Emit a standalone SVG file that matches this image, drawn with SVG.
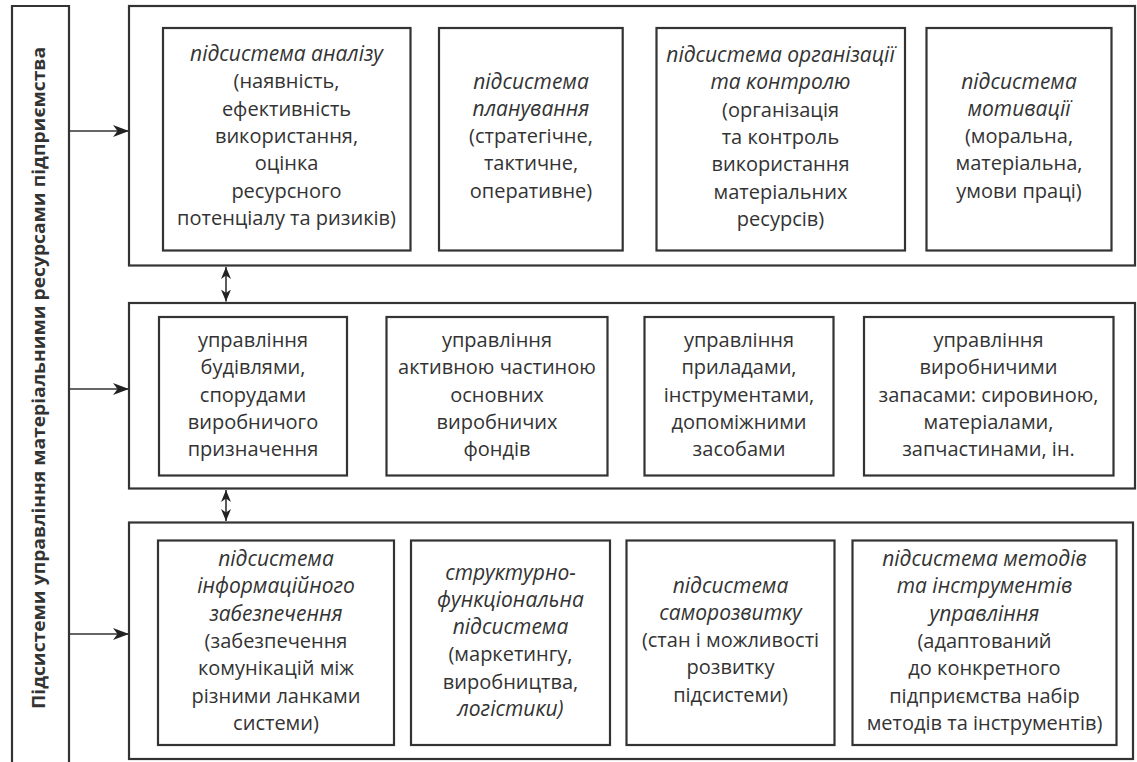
<svg xmlns="http://www.w3.org/2000/svg" width="1137" height="762" viewBox="0 0 1137 762">
  <style>
    .frame { fill: none; stroke: #333; stroke-width: 2.2; }
    .box { fill: #fff; stroke: #333; stroke-width: 2.2; }
    .link { fill: none; stroke: #333; stroke-width: 1.6; }
    text { font-family: "Open Sans", "Noto Sans", "DejaVu Sans", sans-serif; font-size: 20px; font-weight: 500; fill: #333; text-anchor: middle; }
    .it { font-style: italic; font-size: 21px; }
    .side { font-weight: bold; font-size: 18.5px; }
  </style>
  <defs>
    <marker id="head" markerUnits="userSpaceOnUse" markerWidth="17" markerHeight="13" refX="16" refY="6.5" orient="auto">
      <path d="M0,0.5 L16,6.5 L0,12.5 L4.5,6.5 Z" fill="#222"/>
    </marker>
    <marker id="tip" markerUnits="userSpaceOnUse" markerWidth="13" markerHeight="12" refX="12" refY="6" orient="auto-start-reverse">
      <path d="M0,1 L12,6 L0,11 L3.5,6 Z" fill="#222"/>
    </marker>
  </defs>

  <!-- side panel with rotated title -->
  <g id="side-panel">
    <path class="frame" d="M12,770 V6 H69 V770"/>
    <text class="side" transform="translate(45,378) rotate(-90)" textLength="662" lengthAdjust="spacingAndGlyphs">Підсистеми управління матеріальними ресурсами підприємства</text>
  </g>

  <!-- three tier frames -->
  <g id="tier-top"><rect class="frame" x="129" y="6" width="1006" height="259.5"/></g>
  <g id="tier-middle"><rect class="frame" x="129" y="303" width="1006" height="185.5"/></g>
  <g id="tier-bottom"><rect class="frame" x="129" y="522.5" width="1004" height="236.5"/></g>

  <!-- connectors -->
  <g id="connectors">
    <line class="link" x1="69" y1="131" x2="129" y2="131" marker-end="url(#head)"/>
    <line class="link" x1="69" y1="389" x2="129" y2="389" marker-end="url(#head)"/>
    <line class="link" x1="69" y1="634" x2="129" y2="634" marker-end="url(#head)"/>
    <line class="link" x1="226" y1="267" x2="226" y2="301.5" marker-start="url(#tip)" marker-end="url(#tip)"/>
    <line class="link" x1="226" y1="490" x2="226" y2="521" marker-start="url(#tip)" marker-end="url(#tip)"/>
  </g>

  <!-- top tier: subsystems -->
  <g id="analysis">
    <rect class="box" x="163" y="28" width="247.5" height="222.5"/>
    <text x="286.5" y="61"><tspan class="it">підсистема аналізу</tspan><tspan x="286.5" dy="27.3">(наявність,</tspan><tspan x="286.5" dy="27.3">ефективність</tspan><tspan x="286.5" dy="27.3">використання,</tspan><tspan x="286.5" dy="27.3">оцінка</tspan><tspan x="286.5" dy="27.3">ресурсного</tspan><tspan x="286.5" dy="27.3">потенціалу та ризиків)</tspan></text>
  </g>
  <g id="planning">
    <rect class="box" x="439" y="28" width="183.7" height="222.5"/>
    <text x="531" y="88.5"><tspan class="it">підсистема</tspan><tspan x="531" dy="27.3" class="it">планування</tspan><tspan x="531" dy="27.3">(стратегічне,</tspan><tspan x="531" dy="27.3">тактичне,</tspan><tspan x="531" dy="27.3">оперативне)</tspan></text>
  </g>
  <g id="organization">
    <rect class="box" x="656.5" y="28" width="248.5" height="222.5"/>
    <text x="780.5" y="62"><tspan class="it">підсистема організації</tspan><tspan x="780.5" dy="27.3" class="it">та контролю</tspan><tspan x="780.5" dy="27.3">(організація</tspan><tspan x="780.5" dy="27.3">та контроль</tspan><tspan x="780.5" dy="27.3">використання</tspan><tspan x="780.5" dy="27.3">матеріальних</tspan><tspan x="780.5" dy="27.3">ресурсів)</tspan></text>
  </g>
  <g id="motivation">
    <rect class="box" x="926.5" y="28" width="185" height="222.5"/>
    <text x="1019" y="88.5"><tspan class="it">підсистема</tspan><tspan x="1019" dy="27.3" class="it">мотивації</tspan><tspan x="1019" dy="27.3">(моральна,</tspan><tspan x="1019" dy="27.3">матеріальна,</tspan><tspan x="1019" dy="27.3">умови праці)</tspan></text>
  </g>

  <!-- middle tier: resource management -->
  <g id="buildings">
    <rect class="box" x="159" y="317" width="188" height="158.5"/>
    <text x="253" y="347"><tspan>управління</tspan><tspan x="253" dy="27.3">будівлями,</tspan><tspan x="253" dy="27.3">спорудами</tspan><tspan x="253" dy="27.3">виробничого</tspan><tspan x="253" dy="27.3">призначення</tspan></text>
  </g>
  <g id="fixed-assets">
    <rect class="box" x="386.5" y="317" width="221" height="158.5"/>
    <text x="497" y="347"><tspan>управління</tspan><tspan x="497" dy="27.3">активною частиною</tspan><tspan x="497" dy="27.3">основних</tspan><tspan x="497" dy="27.3">виробничих</tspan><tspan x="497" dy="27.3">фондів</tspan></text>
  </g>
  <g id="tools">
    <rect class="box" x="644.5" y="317" width="189" height="158.5"/>
    <text x="739" y="347"><tspan>управління</tspan><tspan x="739" dy="27.3">приладами,</tspan><tspan x="739" dy="27.3">інструментами,</tspan><tspan x="739" dy="27.3">допоміжними</tspan><tspan x="739" dy="27.3">засобами</tspan></text>
  </g>
  <g id="inventory">
    <rect class="box" x="864" y="317" width="249.5" height="158.5"/>
    <text x="988.5" y="347"><tspan>управління</tspan><tspan x="988.5" dy="27.3">виробничими</tspan><tspan x="988.5" dy="27.3">запасами: сировиною,</tspan><tspan x="988.5" dy="27.3">матеріалами,</tspan><tspan x="988.5" dy="27.3">запчастинами, ін.</tspan></text>
  </g>

  <!-- bottom tier: supporting subsystems -->
  <g id="information">
    <rect class="box" x="158" y="540.5" width="236" height="204.5"/>
    <text x="276" y="566"><tspan class="it">підсистема</tspan><tspan x="276" dy="27.3" class="it">інформаційного</tspan><tspan x="276" dy="27.3" class="it">забезпечення</tspan><tspan x="276" dy="27.3">(забезпечення</tspan><tspan x="276" dy="27.3">комунікацій між</tspan><tspan x="276" dy="27.3">різними ланками</tspan><tspan x="276" dy="27.3">системи)</tspan></text>
  </g>
  <g id="structural">
    <rect class="box" x="411" y="540.5" width="199" height="204.5"/>
    <text x="510.5" y="579.5"><tspan class="it">структурно-</tspan><tspan x="510.5" dy="27.3" class="it">функціональна</tspan><tspan x="510.5" dy="27.3" class="it">підсистема</tspan><tspan x="510.5" dy="27.3">(маркетингу,</tspan><tspan x="510.5" dy="27.3">виробництва,</tspan><tspan x="510.5" dy="27.3" class="it">логістики)</tspan></text>
  </g>
  <g id="self-development">
    <rect class="box" x="626.5" y="540.5" width="208" height="204.5"/>
    <text x="730.5" y="592.5"><tspan class="it">підсистема</tspan><tspan x="730.5" dy="27.3" class="it">саморозвитку</tspan><tspan x="730.5" dy="27.3">(стан і можливості</tspan><tspan x="730.5" dy="27.3">розвитку</tspan><tspan x="730.5" dy="27.3">підсистеми)</tspan></text>
  </g>
  <g id="methods">
    <rect class="box" x="852.5" y="540.5" width="264" height="204.5"/>
    <text x="984.5" y="566"><tspan class="it">підсистема методів</tspan><tspan x="984.5" dy="27.3" class="it">та інструментів</tspan><tspan x="984.5" dy="27.3" class="it">управління</tspan><tspan x="984.5" dy="27.3">(адаптований</tspan><tspan x="984.5" dy="27.3">до конкретного</tspan><tspan x="984.5" dy="27.3">підприємства набір</tspan><tspan x="984.5" dy="27.3">методів та інструментів)</tspan></text>
  </g>
</svg>
